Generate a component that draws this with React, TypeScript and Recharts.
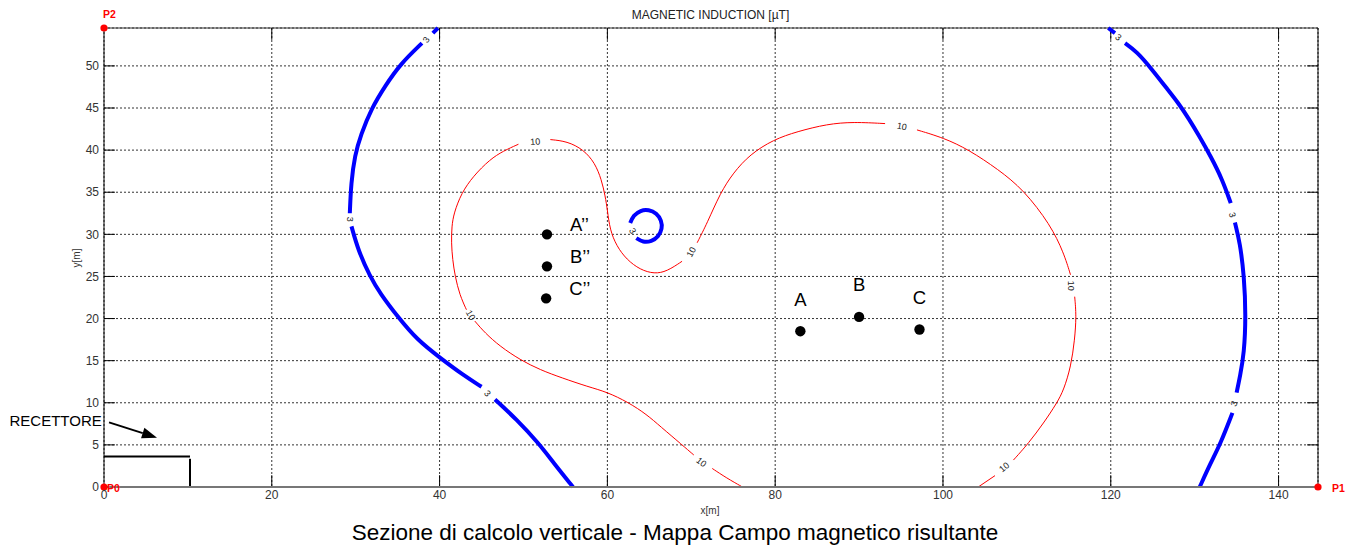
import React from 'react';
import {
  ComposedChart,
  Line,
  Scatter,
  XAxis,
  YAxis,
  CartesianGrid,
  ReferenceLine,
} from 'recharts';

// ---------- axes ----------
const X_MAX = 144.7;
const Y_MAX = 54.5;
const xTicks = [0, 20, 40, 60, 80, 100, 120, 140];
const yTicks = [0, 5, 10, 15, 20, 25, 30, 35, 40, 45, 50];

type Pt = { x: number; y: number | null };
const G = (x: number): Pt => ({ x, y: null }); // gap where a contour label sits

// ---------- contour 3 µT (blue) ----------
const blueLeft: Pt[] = [
  { x: 39.8, y: 54.5 }, { x: 39.2, y: 53.9 }, G(38.5),
  { x: 37.9, y: 52.7 }, { x: 35.3, y: 50.2 }, { x: 33.5, y: 47.6 }, { x: 31.9, y: 45.0 },
  { x: 30.6, y: 41.8 }, { x: 29.9, y: 39.4 }, { x: 29.45, y: 36.1 }, { x: 29.3, y: 32.5 }, G(29.4),
  { x: 29.5, y: 30.95 }, { x: 30.3, y: 28.1 }, { x: 31.7, y: 25.0 }, { x: 32.9, y: 23.0 },
  { x: 35.1, y: 20.1 }, { x: 37.3, y: 17.5 }, { x: 40.1, y: 15.3 }, { x: 42.8, y: 13.3 },
  { x: 45.0, y: 11.9 }, G(45.8),
  { x: 46.6, y: 10.4 }, { x: 49.2, y: 8.0 }, { x: 51.8, y: 5.2 }, { x: 53.6, y: 2.85 }, { x: 55.9, y: 0 },
];

const blueRight: Pt[] = [
  { x: 119.7, y: 54.5 }, { x: 120.5, y: 53.9 }, G(121.0),
  { x: 121.7, y: 52.7 }, { x: 123.1, y: 51.7 }, { x: 124.9, y: 49.6 }, { x: 126.62, y: 47.4 },
  { x: 128.06, y: 45.6 }, { x: 129.37, y: 43.62 }, { x: 130.44, y: 41.84 }, { x: 131.93, y: 39.23 },
  { x: 133.3, y: 36.5 }, { x: 134.3, y: 33.7 }, G(134.5),
  { x: 134.8, y: 31.4 }, { x: 135.4, y: 29.0 }, { x: 135.9, y: 25.0 }, { x: 136.1, y: 20.3 },
  { x: 135.9, y: 15.9 }, { x: 135.4, y: 13.1 }, { x: 135.0, y: 11.2 }, G(134.8),
  { x: 134.5, y: 8.8 }, { x: 133.1, y: 5.2 }, { x: 131.9, y: 2.85 }, { x: 130.6, y: 0 },
];

const blueLoop: Pt[] = [
  { x: 63.45, y: 29.55 }, { x: 64.28, y: 29.15 }, { x: 65.23, y: 29.23 }, { x: 66.02, y: 29.78 },
  { x: 66.45, y: 30.68 }, { x: 66.37, y: 31.63 }, { x: 65.81, y: 32.44 }, { x: 64.92, y: 32.85 },
  { x: 63.97, y: 32.77 }, { x: 63.18, y: 32.2 }, { x: 62.72, y: 31.35 },
];

// ---------- contour 10 µT (red) ----------
const redContour: Pt[] = [
  { x: 76.1, y: 0 }, { x: 74.2, y: 1.07 }, { x: 72.5, y: 2.2 }, G(71.3),
  { x: 70.3, y: 3.8 }, { x: 68.9, y: 5.0 }, { x: 66.3, y: 7.2 }, { x: 64.7, y: 8.6 },
  { x: 62.5, y: 10.05 }, { x: 59.9, y: 11.3 }, { x: 57.7, y: 11.9 }, { x: 54.6, y: 12.95 },
  { x: 52.0, y: 13.9 }, { x: 49.6, y: 15.1 }, { x: 47.2, y: 16.7 }, { x: 45.4, y: 18.3 },
  { x: 44.2, y: 19.7 }, G(43.7),
  { x: 43.2, y: 21.05 }, { x: 42.4, y: 22.8 }, { x: 41.85, y: 25.0 }, { x: 41.55, y: 27.0 },
  { x: 41.4, y: 29.0 }, { x: 41.45, y: 30.95 }, { x: 41.7, y: 32.5 }, { x: 42.6, y: 34.9 },
  { x: 44.0, y: 36.9 }, { x: 46.0, y: 38.9 }, { x: 47.6, y: 39.9 }, { x: 49.4, y: 40.7 }, G(51.3),
  { x: 53.2, y: 41.25 }, { x: 55.2, y: 41.05 }, { x: 57.15, y: 40.06 }, { x: 58.5, y: 38.5 },
  { x: 59.3, y: 36.5 }, { x: 59.75, y: 34.5 }, { x: 60.0, y: 32.9 }, { x: 60.3, y: 30.55 },
  { x: 61.1, y: 28.6 }, { x: 62.3, y: 27.0 }, { x: 63.9, y: 25.8 }, { x: 65.6, y: 25.3 },
  { x: 67.1, y: 25.6 }, { x: 68.9, y: 26.8 }, G(69.8),
  { x: 70.7, y: 29.0 }, { x: 71.9, y: 31.35 }, { x: 73.45, y: 34.9 }, { x: 75.0, y: 37.3 },
  { x: 77.0, y: 39.5 }, { x: 79.8, y: 41.25 }, { x: 82.6, y: 42.2 }, { x: 86.2, y: 43.1 },
  { x: 89.3, y: 43.35 }, { x: 93.1, y: 43.15 }, G(95.0),
  { x: 96.9, y: 42.4 }, { x: 100.1, y: 41.45 }, { x: 103.05, y: 40.06 }, { x: 106.6, y: 37.7 },
  { x: 109.6, y: 35.3 }, { x: 112.8, y: 31.15 }, { x: 114.4, y: 27.8 }, { x: 115.2, y: 25.2 }, G(115.4),
  { x: 115.7, y: 22.6 }, { x: 115.9, y: 20.3 }, { x: 115.7, y: 17.5 }, { x: 115.25, y: 14.3 },
  { x: 114.4, y: 11.55 }, { x: 113.6, y: 10.0 }, { x: 112.0, y: 7.6 }, { x: 110.2, y: 5.2 },
  { x: 108.4, y: 3.2 }, G(107.3),
  { x: 106.2, y: 1.35 }, { x: 104.2, y: 0 },
];

// ---------- contour labels ----------
const contourLabels = [
  { x: 38.4, y: 53.1, t: '3' },
  { x: 29.3, y: 31.8, t: '3' },
  { x: 45.7, y: 11.1, t: '3' },
  { x: 63.0, y: 30.4, t: '3' },
  { x: 120.9, y: 53.4, t: '3' },
  { x: 134.5, y: 32.3, t: '3' },
  { x: 134.7, y: 9.9, t: '3' },
  { x: 51.4, y: 41.0, t: '10' },
  { x: 43.7, y: 20.4, t: '10' },
  { x: 70.0, y: 27.9, t: '10' },
  { x: 95.1, y: 42.8, t: '10' },
  { x: 115.3, y: 23.9, t: '10' },
  { x: 107.3, y: 2.35, t: '10' },
  { x: 71.2, y: 2.95, t: '10' },
];
const contourLabelAngles = [-55, 90, 50, 60, 40, 75, -70, -5, 60, -62, 10, 90, -40, 38];

// ---------- calculation points ----------
const pointsPrimed = [
  { x: 52.8, y: 30.0, name: 'A’’' },
  { x: 52.8, y: 26.2, name: 'B’’' },
  { x: 52.7, y: 22.4, name: 'C’’' },
];
const pointsMain = [
  { x: 83.0, y: 18.5, name: 'A' },
  { x: 90.0, y: 20.2, name: 'B' },
  { x: 97.2, y: 18.7, name: 'C' },
];

// ---------- section corner points ----------
const cornerPoints = [
  { x: 0, y: 54.5, name: 'P2' },
  { x: 0, y: 0, name: 'P0' },
  { x: 144.7, y: 0, name: 'P1' },
];

// ---------- receptor ----------
const receptorTop: Pt[] = [{ x: 0, y: 3.63 }, { x: 10.25, y: 3.63 }];
const receptorSide: Pt[] = [{ x: 10.25, y: 3.35 }, { x: 10.25, y: 0 }];
const receptorArrow = [{ x: 0.6, y: 7.67 }, { x: 6.32, y: 5.86 }];

// ---------- styles ----------
const FONT = '"Liberation Sans", Arial, Helvetica, sans-serif';
const W = 1353;
const H = 546;
const TICK_LEN_Y = 1.4; // inward tick length on x axis, in y units
const TICK_LEN_X = 1.3; // inward tick length on y axis, in x units
const P_LABEL_OFFSET: Record<string, [number, number]> = {
  P2: [-1, -10],
  P0: [3, 4.5],
  P1: [14, 4.5],
};

const ContourLabel = (props: any) => {
  const { cx, cy, index } = props;
  const a = contourLabelAngles[index] ?? 0;
  return (
    <text
      x={cx}
      y={cy}
      transform={`rotate(${a} ${cx} ${cy})`}
      textAnchor="middle"
      dominantBaseline="central"
      fontSize={9}
      fontFamily={FONT}
      fill="#222"
    >
      {props.payload.t}
    </text>
  );
};

const PrimedDot = (props: any) => {
  const { cx, cy, payload } = props;
  return (
    <g>
      <circle cx={cx} cy={cy} r={5.2} fill="#000" />
      <text x={cx + 23} y={cy - 3} fontSize={18.5} fontFamily={FONT} fill="#000">
        {payload.name}
      </text>
    </g>
  );
};

const MainDot = (props: any) => {
  const { cx, cy, payload } = props;
  return (
    <g>
      <circle cx={cx} cy={cy} r={5.2} fill="#000" />
      <text x={cx} y={cy - 25.5} textAnchor="middle" fontSize={18.5} fontFamily={FONT} fill="#000">
        {payload.name}
      </text>
    </g>
  );
};

const CornerDot = (props: any) => {
  const { cx, cy, payload } = props;
  const [dx, dy] = P_LABEL_OFFSET[payload.name] || [4, 4];
  return (
    <g>
      <circle cx={cx} cy={cy} r={3.6} fill="#ff0000" />
      <text
        x={cx + dx}
        y={cy + dy}
        fontSize={10.5}
        fontWeight="bold"
        fontFamily={FONT}
        fill="#ff0000"
      >
        {payload.name}
      </text>
    </g>
  );
};

const ArrowShape = (p: any) => {
  const { x1, y1, x2, y2 } = p;
  const ang = Math.atan2(y2 - y1, x2 - x1);
  const L = 15;
  const Wd = 5.5;
  const bx = x2 - L * Math.cos(ang);
  const by = y2 - L * Math.sin(ang);
  const pts = `${x2},${y2} ${bx - Wd * Math.sin(ang)},${by + Wd * Math.cos(ang)} ${bx + Wd * Math.sin(ang)},${by - Wd * Math.cos(ang)}`;
  return (
    <g>
      <line x1={x1} y1={y1} x2={bx} y2={by} stroke="#000" strokeWidth={2} />
      <polygon points={pts} fill="#000" />
    </g>
  );
};

const lineCommon = {
  dataKey: 'y',
  dot: false,
  activeDot: false,
  isAnimationActive: false,
  connectNulls: false,
  legendType: 'none' as const,
};

export default function App() {
  return (
    <div style={{ position: 'absolute', left: 0, top: 0, width: W, height: H, background: '#fff' }}>
      <ComposedChart
        width={W}
        height={H}
        margin={{ top: 28, right: 35, bottom: 29, left: 74 }}
      >
        <CartesianGrid stroke="#333" strokeDasharray="2 2" strokeWidth={1} />
        <XAxis
          type="number"
          dataKey="x"
          domain={[0, X_MAX]}
          ticks={xTicks}
          interval={0}
          height={30}
          tickLine={false}
          tickSize={2}
          tickMargin={1}
          axisLine={{ stroke: '#777', strokeWidth: 2 }}
          tick={{ fontSize: 12, fill: '#333', fontFamily: FONT }}
        />
        <YAxis
          type="number"
          dataKey="y"
          domain={[0, Y_MAX]}
          ticks={yTicks}
          interval={0}
          width={30}
          tickLine={false}
          tickSize={4}
          tickMargin={1}
          axisLine={{ stroke: '#000' }}
          tick={{ fontSize: 12, fill: '#333', fontFamily: FONT }}
        />
        <ReferenceLine y={Y_MAX} stroke="#333" />
        <ReferenceLine x={X_MAX} stroke="#000" />
        {xTicks.slice(1).map((t) => (
          <ReferenceLine key={`xb${t}`} segment={[{ x: t, y: 0 }, { x: t, y: TICK_LEN_Y }]} stroke="#000" />
        ))}
        {xTicks.slice(1).map((t) => (
          <ReferenceLine key={`xt${t}`} segment={[{ x: t, y: Y_MAX }, { x: t, y: Y_MAX - TICK_LEN_Y }]} stroke="#000" />
        ))}
        {yTicks.slice(1).map((t) => (
          <ReferenceLine key={`yl${t}`} segment={[{ x: 0, y: t }, { x: TICK_LEN_X, y: t }]} stroke="#000" />
        ))}
        {yTicks.slice(1).map((t) => (
          <ReferenceLine key={`yr${t}`} segment={[{ x: X_MAX, y: t }, { x: X_MAX - TICK_LEN_X, y: t }]} stroke="#000" />
        ))}

        <Line {...lineCommon} data={redContour} type="basis" stroke="#ff0000" strokeWidth={1} />
        <Line {...lineCommon} data={blueLeft} type="basis" stroke="#0000ff" strokeWidth={4} />
        <Line {...lineCommon} data={blueRight} type="basis" stroke="#0000ff" strokeWidth={4} />
        <Line {...lineCommon} data={blueLoop} type="natural" stroke="#0000ff" strokeWidth={4} />

        <Line {...lineCommon} data={receptorTop} type="linear" stroke="#000" strokeWidth={2} />
        <Line {...lineCommon} data={receptorSide} type="linear" stroke="#000" strokeWidth={2} />
        <ReferenceLine segment={receptorArrow} shape={ArrowShape} ifOverflow="visible" />

        <Scatter data={contourLabels} dataKey="y" shape={ContourLabel} isAnimationActive={false} legendType="none" />
        <Scatter data={pointsPrimed} dataKey="y" shape={PrimedDot} isAnimationActive={false} legendType="none" />
        <Scatter data={pointsMain} dataKey="y" shape={MainDot} isAnimationActive={false} legendType="none" />
        <Scatter data={cornerPoints} dataKey="y" shape={CornerDot} isAnimationActive={false} legendType="none" />
      </ComposedChart>

      <svg
        width={W}
        height={H}
        style={{ position: 'absolute', left: 0, top: 0, pointerEvents: 'none' }}
      >
        <text x={710.5} y={19} textAnchor="middle" fontSize={12} fontFamily={FONT} fill="#222">
          MAGNETIC INDUCTION [µT]
        </text>
        <text x={710} y={514} textAnchor="middle" fontSize={10} fontFamily={FONT} fill="#333">
          x[m]
        </text>
        <text
          x={80}
          y={258}
          textAnchor="middle"
          fontSize={10}
          fontFamily={FONT}
          fill="#333"
          transform="rotate(-90 80 258)"
        >
          y[m]
        </text>
        <text x={9.5} y={426} fontSize={15} fontFamily={FONT} fill="#000">
          RECETTORE
        </text>
        <text x={675} y={540} textAnchor="middle" fontSize={22.5} fontFamily={FONT} fill="#000">
          Sezione di calcolo verticale - Mappa Campo magnetico risultante
        </text>
      </svg>
    </div>
  );
}
